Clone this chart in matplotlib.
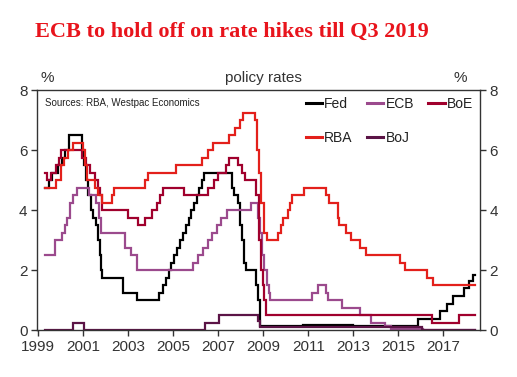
import matplotlib
matplotlib.use("Agg")
import matplotlib.pyplot as plt

# ---------------- data (change dates, new level) ----------------
end_year = 2018.40

fed_x = [1999.30, 1999.48, 1999.65, 1999.88, 2000.08, 2000.22, 2000.38, 2000.95, 2001.05,
         2001.15, 2001.25, 2001.35, 2001.45, 2001.58, 2001.68, 2001.75, 2001.80, 2001.87,
         2002.80, 2003.40, 2004.40, 2004.55, 2004.68, 2004.82, 2004.92, 2005.05, 2005.18,
         2005.32, 2005.45, 2005.58, 2005.70, 2005.82, 2005.92, 2006.05, 2006.15, 2006.28,
         2006.38, 2007.60, 2007.72, 2007.88, 2007.98, 2008.05, 2008.15, 2008.22, 2008.70,
         2008.78, 2008.88, 2010.75, 2013.00, 2015.88, 2016.85, 2017.15, 2017.40, 2017.90,
         2018.15, 2018.33]
fed_y = [4.75, 5.0, 5.25, 5.5, 5.75, 6.0, 6.5, 6.0, 5.5,
         5.0, 4.5, 4.0, 3.75, 3.5, 3.0, 2.5, 2.0, 1.75,
         1.25, 1.0, 1.25, 1.5, 1.75, 2.0, 2.25, 2.5, 2.75,
         3.0, 3.25, 3.5, 3.75, 4.0, 4.25, 4.5, 4.75, 5.0,
         5.25, 4.75, 4.5, 4.25, 3.5, 3.0, 2.25, 2.0, 1.5,
         1.0, 0.12, 0.17, 0.12, 0.37, 0.62, 0.87, 1.12, 1.40,
         1.65, 1.85]

ecb_x = [1999.30, 1999.78, 2000.08, 2000.20, 2000.30, 2000.45, 2000.55, 2000.72, 2001.28,
         2001.60, 2001.70, 2001.80, 2002.88, 2003.15, 2003.42, 2005.88, 2006.12, 2006.35,
         2006.55, 2006.75, 2006.95, 2007.15, 2007.40, 2008.45, 2008.75, 2008.85, 2008.95,
         2009.02, 2009.15, 2009.25, 2009.32, 2011.18, 2011.45, 2011.78, 2011.88, 2012.48,
         2013.28, 2013.80, 2014.40, 2014.65, 2016.10]
ecb_y = [2.5, 3.0, 3.25, 3.5, 3.75, 4.25, 4.5, 4.75, 4.5,
         4.25, 3.75, 3.25, 2.75, 2.5, 2.0, 2.25, 2.5, 2.75,
         3.0, 3.25, 3.5, 3.75, 4.0, 4.25, 3.75, 3.25, 2.5,
         2.0, 1.5, 1.25, 1.0, 1.25, 1.5, 1.25, 1.0, 0.75,
         0.5, 0.25, 0.15, 0.05, 0.0]

boe_x = [1999.30, 1999.40, 1999.58, 1999.80, 1999.95, 2000.05, 2000.95, 2001.15, 2001.32,
         2001.55, 2001.68, 2001.75, 2001.83, 2003.02, 2003.45, 2003.78, 2004.05, 2004.30,
         2004.42, 2004.57, 2005.50, 2006.55, 2006.82, 2006.98, 2007.33, 2007.50, 2007.88,
         2008.05, 2008.20, 2008.70, 2008.80, 2008.90, 2008.98, 2009.05, 2009.12, 2016.50,
         2017.68]
boe_y = [5.25, 5.0, 5.25, 5.5, 5.75, 6.0, 5.75, 5.5, 5.25,
         5.0, 4.75, 4.5, 4.0, 3.75, 3.5, 3.75, 4.0, 4.25,
         4.5, 4.75, 4.5, 4.75, 5.0, 5.25, 5.5, 5.75, 5.5,
         5.25, 5.0, 4.5, 3.0, 2.0, 1.5, 1.0, 0.5, 0.25,
         0.5]

rba_x = [1999.30, 1999.80, 2000.05, 2000.18, 2000.35, 2000.55, 2001.02, 2001.08, 2001.20,
         2001.56, 2001.68, 2001.85, 2002.28, 2002.40, 2003.78, 2003.88, 2005.12, 2006.30,
         2006.55, 2006.78, 2007.50, 2007.75, 2007.98, 2008.12, 2008.62, 2008.72, 2008.80,
         2008.90, 2009.05, 2009.15, 2009.68, 2009.78, 2009.88, 2010.10, 2010.20, 2010.28,
         2010.80, 2011.78, 2011.90, 2012.30, 2012.38, 2012.68, 2012.88, 2013.30, 2013.55,
         2015.05, 2015.30, 2016.25, 2016.55]
rba_y = [4.75, 5.0, 5.5, 5.75, 6.0, 6.25, 6.0, 5.5, 5.0,
         4.75, 4.5, 4.25, 4.5, 4.75, 5.0, 5.25, 5.5, 5.75,
         6.0, 6.25, 6.5, 6.75, 7.0, 7.25, 7.0, 6.0, 5.25,
         4.25, 3.25, 3.0, 3.25, 3.5, 3.75, 4.0, 4.25, 4.5,
         4.75, 4.5, 4.25, 3.75, 3.5, 3.25, 3.0, 2.75, 2.5,
         2.25, 2.0, 1.75, 1.5]

boj_x = [1999.30, 2000.58, 2001.05, 2006.42, 2007.02, 2008.75, 2008.88, 2016.05]
boj_y = [0.0, 0.25, 0.0, 0.25, 0.5, 0.3, 0.1, 0.0]

series = [
    ("Fed", fed_x, fed_y, "#000000"),
    ("ECB", ecb_x, ecb_y, "#9B4A8D"),
    ("BoE", boe_x, boe_y, "#A0002D"),
    ("RBA", rba_x, rba_y, "#E3201B"),
    ("BoJ", boj_x, boj_y, "#5B1446"),
]

x_ticks = [1999, 2001, 2003, 2005, 2007, 2009, 2011, 2013, 2015, 2017]
y_ticks = [0, 2, 4, 6, 8]

title = "ECB to hold off on rate hikes till Q3 2019"
subtitle = "policy rates"
source = "Sources: RBA, Westpac Economics"

# ---------------- figure ----------------
W, H = 517, 377
fig = plt.figure(figsize=(W / 100, H / 100), dpi=100)
plt.rcParams['font.family'] = ['Liberation Sans', 'DejaVu Sans']

ax_l, ax_r, ax_t, ax_b = 37.3, 480, 90, 330
ax = fig.add_axes([ax_l / W, 1 - ax_b / H, (ax_r - ax_l) / W, (ax_b - ax_t) / H])

lines = {}
for name, xs, ys, col in series:
    ln, = ax.step(xs + [end_year], ys + [ys[-1]], where='post', color=col, lw=1.6,
                  label=name, solid_joinstyle='miter')
    lines[name] = ln

ax.set_xlim(1998.98, 2018.62)
ax.set_ylim(0, 8)
ax.set_xticks(x_ticks)
ax.set_xticklabels([str(t) for t in x_ticks])
ax.set_yticks(y_ticks)

axis_col = "#333333"
for s in ax.spines.values():
    s.set_color(axis_col)
    s.set_linewidth(1.0)
ax.tick_params(axis='both', direction='out', length=4, width=1.0, color=axis_col,
               labelsize=11, labelcolor="#333333", pad=3)
ax.tick_params(axis='y', left=True, right=True, labelleft=True, labelright=True)

# legend (column-major fill -> rows: Fed ECB BoE / RBA BoJ)
order = ["Fed", "RBA", "ECB", "BoJ", "BoE"]
leg = ax.legend([lines[n] for n in order], order, ncol=3, loc='upper left',
                bbox_to_anchor=((300 - ax_l) / (ax_r - ax_l), 0.995),
                frameon=False, fontsize=10, handlelength=1.2, handletextpad=0.15,
                columnspacing=1.0, labelspacing=1.45, borderaxespad=0.2, borderpad=0.2)
for h in leg.legend_handles:
    h.set_linewidth(2.2)
for t in leg.get_texts():
    t.set_color("#222222")

ax.text((45 - ax_l) / (ax_r - ax_l), (ax_b - 103) / (ax_b - ax_t), source,
        transform=ax.transAxes, fontsize=7, color="#222222", va='center', ha='left')

fig.text(35 / W, 1 - 32 / H, title, fontsize=16, color="#E8141C",
         family=['Liberation Serif', 'DejaVu Serif'], fontweight='bold',
         ha='left', va='center')
fig.text(263 / W, 1 - 78 / H, subtitle, fontsize=11, color="#333333", ha='center', va='center')
fig.text(47 / W, 1 - 78 / H, "%", fontsize=11, color="#333333", ha='center', va='center')
fig.text(460 / W, 1 - 78 / H, "%", fontsize=11, color="#333333", ha='center', va='center')

fig.savefig("out.png", dpi=100)
